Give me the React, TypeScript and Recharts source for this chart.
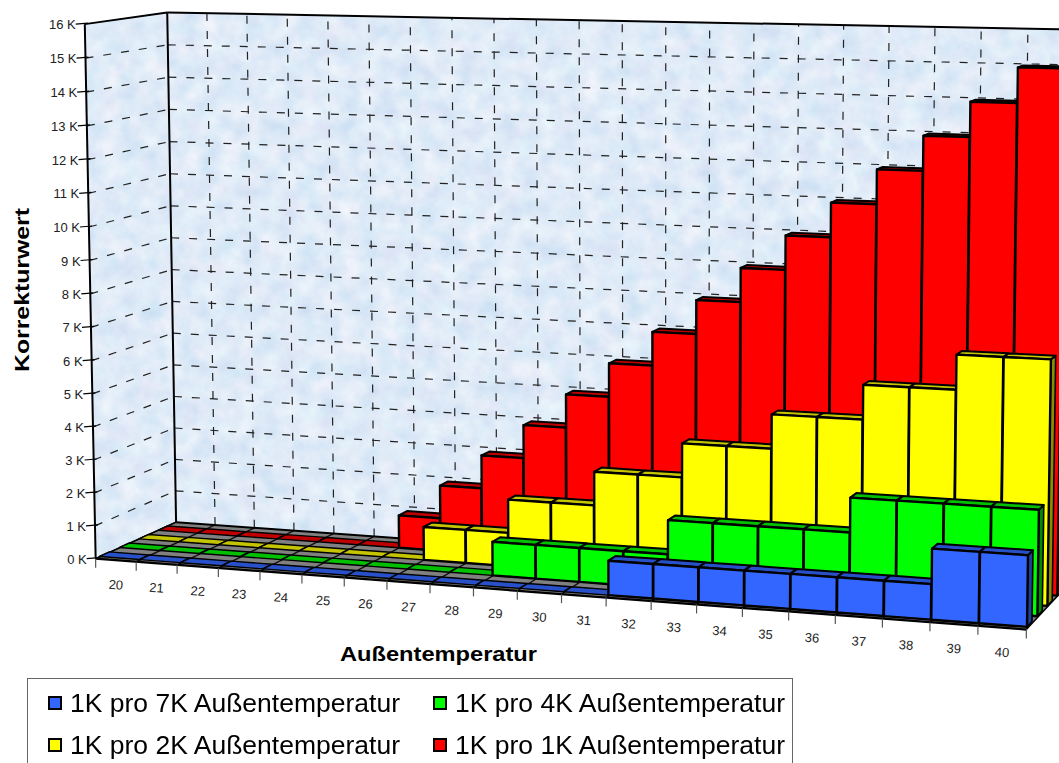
import { BarChart, Bar, XAxis, YAxis, Legend } from "recharts";

const WIDTH = 1059;
const HEIGHT = 763;
const FONT = "'Liberation Sans', Arial, sans-serif";

const categories = [20, 21, 22, 23, 24, 25, 26, 27, 28, 29, 30, 31, 32, 33, 34, 35, 36, 37, 38, 39, 40];
const yTicks = [0, 1, 2, 3, 4, 5, 6, 7, 8, 9, 10, 11, 12, 13, 14, 15, 16];
const per7K = [0, 0, 0, 0, 0, 0, 0, 0, 0, 0, 0, 0, 1, 1, 1, 1, 1, 1, 1, 2, 2];
const per4K = [0, 0, 0, 0, 0, 0, 0, 0, 0, 1, 1, 1, 1, 2, 2, 2, 2, 3, 3, 3, 3];
const per2K = [0, 0, 0, 0, 0, 0, 0, 1, 1, 2, 2, 3, 3, 4, 4, 5, 5, 6, 6, 7, 7];
const per1K = [0, 0, 0, 0, 0, 0, 1, 2, 3, 4, 5, 6, 7, 8, 9, 10, 11, 12, 13, 14, 15];

const chartData = categories.map((c, i) => ({
  temp: c,
  per7K: per7K[i],
  per4K: per4K[i],
  per2K: per2K[i],
  per1K: per1K[i],
}));

// box corners (u along x, v into depth, w up) and where they land in the picture
const anchors = [
  [0, 0, 0, 97, 558],
  [0, 0, 1, 85, 22],
  [0, 1, 0, 175, 523],
  [0, 1, 1, 167, 14],
  [1, 0, 0, 1025, 632],
  [1, 1, 0, 1068, 583],
  [1, 1, 1, 1075, 30],
  [0.5, 0, 0, 539, 593],
];

function solveCamera() {
  const rows: number[][] = [];
  anchors.forEach(([u, v, w, sx, sy]) => {
    rows.push([u, v, w, 1, 0, 0, 0, 0, -sx * u, -sx * v, -sx * w, sx]);
    rows.push([0, 0, 0, 0, u, v, w, 1, -sy * u, -sy * v, -sy * w, sy]);
  });
  const n = 11;
  const m: number[][] = [];
  for (let i = 0; i < n; i++) {
    m.push([]);
    for (let j = 0; j <= n; j++) {
      m[i].push(rows.reduce((s, r) => s + r[i] * r[j], 0));
    }
  }
  for (let i = 0; i < n; i++) {
    let best = i;
    for (let k = i + 1; k < n; k++) if (Math.abs(m[k][i]) > Math.abs(m[best][i])) best = k;
    [m[i], m[best]] = [m[best], m[i]];
    for (let k = 0; k < n; k++) {
      if (k === i) continue;
      const f = m[k][i] / m[i][i];
      for (let j = i; j <= n; j++) m[k][j] -= f * m[i][j];
    }
  }
  return m.map((r, i) => r[n] / r[i]);
}

const cam = solveCamera();

function project(u: number, v: number, w: number): [number, number] {
  const d = cam[8] * u + cam[9] * v + cam[10] * w + 1;
  return [
    (cam[0] * u + cam[1] * v + cam[2] * w + cam[3]) / d,
    (cam[4] * u + cam[5] * v + cam[6] * w + cam[7]) / d,
  ];
}

function poly(pts: [number, number][]) {
  return pts.map((p) => p[0].toFixed(1) + "," + p[1].toFixed(1)).join(" ");
}

function Seg({ a, b, ...rest }: any) {
  return <line x1={a[0]} y1={a[1]} x2={b[0]} y2={b[1]} {...rest} />;
}

function Walls() {
  const left = [project(0, 0, 0), project(0, 1, 0), project(0, 1, 1), project(0, 0, 1)];
  const back = [project(0, 1, 0), project(1, 1, 0), project(1, 1, 1), project(0, 1, 1)];
  const floor = [project(0, 0, 0), project(1, 0, 0), project(1, 1, 0), project(0, 1, 0)];
  const dash = { stroke: "#222", strokeWidth: 1.2, strokeDasharray: "8 10" };
  return (
    <g>
      <defs>
        <filter id="marble" x="0" y="0" width="100%" height="100%" colorInterpolationFilters="sRGB">
          <feTurbulence type="fractalNoise" baseFrequency="0.05" numOctaves="4" seed="7" result="n" />
          <feColorMatrix
            in="n"
            type="matrix"
            values="0.16 0.08 0 0 0.755  0.11 0 0 0 0.865  0.04 0 0 0 0.95  0 0 0 0 1"
            result="c"
          />
          <feComposite in="c" in2="SourceAlpha" operator="in" />
        </filter>
      </defs>
      <polygon points={poly(left)} fill="#dbe9f7" filter="url(#marble)" />
      <polygon points={poly(back)} fill="#dbe9f7" filter="url(#marble)" />
      {yTicks.slice(1, -1).map((t) => {
        const w = t / 16;
        return (
          <g key={t}>
            <Seg a={project(0, 0, w)} b={project(0, 1, w)} {...dash} />
            <Seg a={project(0, 1, w)} b={project(1, 1, w)} {...dash} />
          </g>
        );
      })}
      {categories.slice(1).map((c, i) => {
        const u = (i + 1) / categories.length;
        return <Seg key={c} a={project(u, 1, 0)} b={project(u, 1, 1)} {...dash} />;
      })}
      <polygon points={poly(floor)} fill="#808080" />
      {categories.map((c, i) => {
        const u = i / categories.length;
        return <Seg key={c} a={project(u, 0, 0)} b={project(u, 1, 0)} stroke="#111" strokeWidth={1.4} />;
      })}
      <Seg a={project(0, 1, 0)} b={project(1, 1, 0)} stroke="#000" strokeWidth={2} />
      <Seg a={project(1, 0, 0)} b={project(1, 1, 0)} stroke="#000" strokeWidth={1.5} />
      <Seg a={project(0, 0, 0)} b={project(1, 0, 0)} stroke="#000" strokeWidth={2.2} />
      <Seg a={project(0, 0, 0)} b={project(0, 1, 0)} stroke="#000" strokeWidth={1.5} />
      <Seg a={project(0, 0, 0)} b={project(0, 0, 1)} stroke="#000" strokeWidth={2} />
      <Seg a={project(0, 1, 0)} b={project(0, 1, 1)} stroke="#000" strokeWidth={2} />
      <Seg a={project(0, 0, 1)} b={project(0, 1, 1)} stroke="#000" strokeWidth={2} />
      <Seg a={project(0, 1, 1)} b={project(1, 1, 1)} stroke="#000" strokeWidth={2} />
    </g>
  );
}

// one bar of the 3D row: recharts hands us its rectangle, we push it into the box
function Bar3D({ x, y, width, height, fill, topFill, sideFill, depth }: any) {
  const u0 = x / WIDTH;
  const u1 = (x + width) / WIDTH;
  const wt = (height > 0 ? HEIGHT - y : 0) / HEIGHT;
  const v0 = depth - 0.06;
  const v1 = depth + 0.06;
  const line = { stroke: "#000", strokeLinejoin: "round" as const };
  if (!(height > 0)) {
    return (
      <polygon
        points={poly([project(u0, v0, 0), project(u1, v0, 0), project(u1, v1, 0), project(u0, v1, 0)])}
        fill={topFill}
        {...line}
        strokeWidth={1.4}
      />
    );
  }
  return (
    <g>
      <polygon
        points={poly([project(u1, v0, 0), project(u1, v1, 0), project(u1, v1, wt), project(u1, v0, wt)])}
        fill={sideFill}
        {...line}
        strokeWidth={1.6}
      />
      <polygon
        points={poly([project(u0, v0, wt), project(u1, v0, wt), project(u1, v1, wt), project(u0, v1, wt)])}
        fill={topFill}
        {...line}
        strokeWidth={2}
      />
      <polygon
        points={poly([project(u0, v0, 0), project(u1, v0, 0), project(u1, v0, wt), project(u0, v0, wt)])}
        fill={fill}
        {...line}
        strokeWidth={2.4}
      />
    </g>
  );
}

function XTick({ x, payload }: any) {
  const half = 0.5 / categories.length;
  const u = x / WIDTH;
  const mid = project(u, 0, 0);
  const a = project(u - half, 0, 0);
  const end = project(1, 0, 0);
  return (
    <g>
      <line x1={a[0]} y1={a[1]} x2={a[0]} y2={a[1] + 9} stroke="#555" strokeWidth={1.2} />
      {payload.value === 40 ? (
        <line x1={end[0]} y1={end[1]} x2={end[0]} y2={end[1] + 9} stroke="#555" strokeWidth={1.2} />
      ) : null}
      <text
        x={mid[0]}
        y={mid[1] + 29}
        textAnchor="middle"
        fontFamily={FONT}
        fontSize={13}
        fill="#222"
        transform={`rotate(4 ${mid[0]} ${mid[1] + 25})`}
      >
        {payload.value}
      </text>
    </g>
  );
}

function YTick({ y, payload }: any) {
  const p = project(0, 0, (HEIGHT - y) / HEIGHT);
  return (
    <g>
      <line x1={p[0] - 9} y1={p[1]} x2={p[0] + 3} y2={p[1] - 1} stroke="#000" strokeWidth={1.2} />
      <text x={p[0] - 9} y={p[1] + 5} textAnchor="end" fontFamily={FONT} fontSize={13} fill="#222">
        {payload.value + " K"}
      </text>
    </g>
  );
}

function Titles() {
  return (
    <g fontFamily={FONT} fontWeight="bold" fill="#000">
      <text x={438.5} y={661} textAnchor="middle" fontSize={20.5} textLength={197} lengthAdjust="spacingAndGlyphs">
        Außentemperatur
      </text>
      <text
        x={29}
        y={290}
        textAnchor="middle"
        fontSize={20.5}
        textLength={164}
        lengthAdjust="spacingAndGlyphs"
        transform="rotate(-90 29 290)"
      >
        Korrekturwert
      </text>
    </g>
  );
}

function LegendBox({ payload }: any) {
  const items = [...(payload || [])].reverse();
  return (
    <div
      style={{
        position: "relative",
        width: 766,
        height: 100,
        boxSizing: "border-box",
        border: "1.5px solid #666",
        background: "#fff",
        fontFamily: FONT,
        fontSize: 25,
        color: "#000",
      }}
    >
      {items.map((it: any, i: number) => {
        const left = i % 2 === 0 ? 20 : 405;
        const top = i < 2 ? 16 : 58;
        return (
          <div key={it.value} style={{ position: "absolute", left, top, display: "flex", alignItems: "center", height: 16 }}>
            <span
              style={{
                width: 14,
                height: 14,
                boxSizing: "border-box",
                border: "2px solid #000",
                background: it.color,
                marginRight: 8,
                flex: "none",
              }}
            />
            <span style={{ whiteSpace: "nowrap", transform: "scaleX(1.06)", transformOrigin: "left center" }}>{it.value}</span>
          </div>
        );
      })}
    </div>
  );
}

export default function App() {
  return (
    <div style={{ position: "absolute", left: 0, top: 0, width: WIDTH, height: HEIGHT, overflow: "hidden", background: "#fff" }}>
      <BarChart
        width={WIDTH}
        height={HEIGHT}
        data={chartData}
        margin={{ top: 0, right: 0, bottom: -1, left: -1 }}
        barCategoryGap={0}
        barGap="-100%"
      >
        <Walls />
        <XAxis dataKey="temp" height={1} axisLine={false} tickLine={false} interval={0} tick={XTick} />
        <YAxis width={1} domain={[0, 16]} ticks={yTicks} axisLine={false} tickLine={false} interval={0} tick={YTick} />
        <Bar
          dataKey="per1K"
          name="1K pro 1K Außentemperatur"
          fill="#ff0000"
          isAnimationActive={false}
          shape={(p: any) => <Bar3D {...p} topFill="#c00000" sideFill="#900000" depth={0.83} />}
        />
        <Bar
          dataKey="per2K"
          name="1K pro 2K Außentemperatur"
          fill="#ffff00"
          isAnimationActive={false}
          shape={(p: any) => <Bar3D {...p} topFill="#c4c400" sideFill="#8c8c00" depth={0.59} />}
        />
        <Bar
          dataKey="per4K"
          name="1K pro 4K Außentemperatur"
          fill="#00ff00"
          isAnimationActive={false}
          shape={(p: any) => <Bar3D {...p} topFill="#00c000" sideFill="#008c00" depth={0.355} />}
        />
        <Bar
          dataKey="per7K"
          name="1K pro 7K Außentemperatur"
          fill="#3366ff"
          isAnimationActive={false}
          shape={(p: any) => <Bar3D {...p} topFill="#2850c8" sideFill="#1f3f9c" depth={0.115} />}
        />
        <Titles />
        <Legend
          layout="horizontal"
          verticalAlign="middle"
          align="center"
          content={LegendBox}
          wrapperStyle={{ position: "absolute", left: 27, top: 678, width: 766, height: 100 }}
        />
      </BarChart>
    </div>
  );
}
